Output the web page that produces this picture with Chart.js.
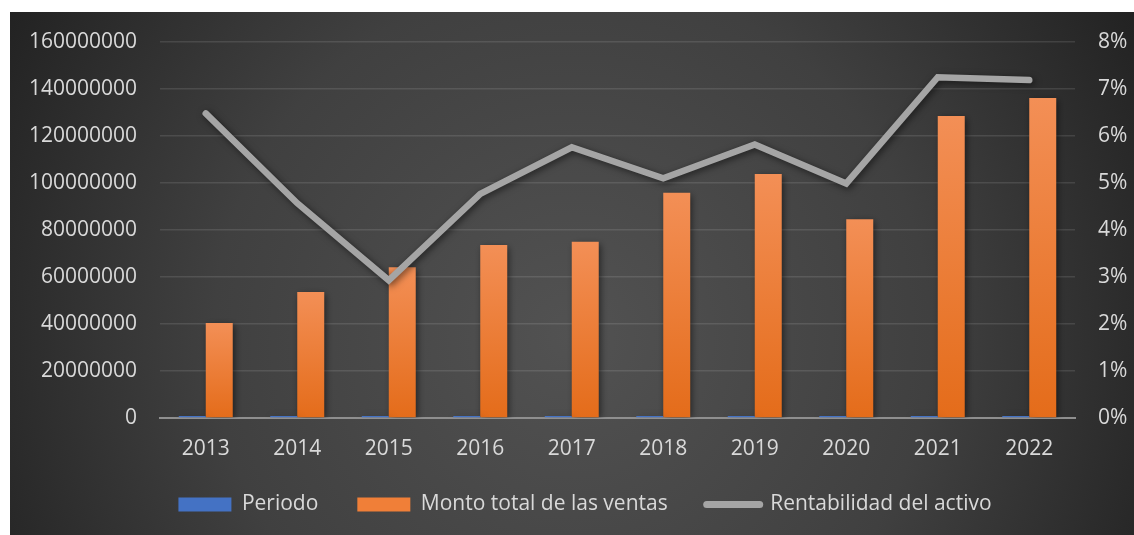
<!DOCTYPE html>
<html>
<head>
<meta charset="utf-8">
<script src="https://cdn.jsdelivr.net/npm/chart.js@4/dist/chart.umd.min.js"></script>
<style>
  html, body { margin: 0; padding: 0; background: #ffffff; }
  #wrap { position: absolute; left: 10px; top: 12px; width: 1124px; height: 523px; }
</style>
</head>
<body>
<div id="wrap"><canvas id="c" width="1124" height="523"></canvas></div>
<script>
const categories = ['2013','2014','2015','2016','2017','2018','2019','2020','2021','2022'];
const periodo = [2013, 2014, 2015, 2016, 2017, 2018, 2019, 2020, 2021, 2022];
const ventas = [40400000, 53600000, 64200000, 73600000, 75000000, 95800000, 103800000, 84600000, 128500000, 136200000];
const rentabilidad = [0.0648, 0.0457, 0.0293, 0.0477, 0.0576, 0.0510, 0.0582, 0.0499, 0.0725, 0.0719];
const leftTicks = [0, 20000000, 40000000, 60000000, 80000000, 100000000, 120000000, 140000000, 160000000];
const rightTicks = [0, 0.01, 0.02, 0.03, 0.04, 0.05, 0.06, 0.07, 0.08];

const TEXT = '#d9d9d9';
const FONT = { family: "'Open Sans', 'Noto Sans', sans-serif", size: 21 };

const bgPlugin = {
  id: 'bg',
  beforeDraw(chart) {
    const ctx = chart.ctx;
    const w = chart.width, h = chart.height;
    ctx.save();
    const g = ctx.createRadialGradient(w * 0.5, h * 0.62, 0, w * 0.5, h * 0.62, w * 0.58);
    g.addColorStop(0, '#525252');
    g.addColorStop(0.55, '#404040');
    g.addColorStop(1, '#222222');
    ctx.fillStyle = g;
    ctx.fillRect(0, 0, w, h);
    ctx.restore();
  }
};

const shadowPlugin = {
  id: 'shadow',
  beforeDatasetDraw(chart, args) {
    const ctx = chart.ctx;
    ctx.save();
    ctx.shadowColor = 'rgba(0,0,0,0.55)';
    ctx.shadowBlur = 7;
    ctx.shadowOffsetX = 2;
    ctx.shadowOffsetY = 2;
  },
  afterDatasetDraw(chart) {
    chart.ctx.restore();
  }
};

// legend box sizing / placement
const legendFitPlugin = {
  id: 'legendFit',
  beforeLayout(chart) {
    const lg = chart.legend;
    if (lg && !lg._patched) {
      const orig = lg.fit.bind(lg);
      lg.fit = function () { orig(); this.height = 72; };
      lg._patched = true;
    }
  },
  afterLayout(chart) {
    const lg = chart.legend;
    if (lg) {
      lg.left += 13; lg.right += 13;
      lg.top -= 8; lg.bottom -= 8;
    }
  }
};

function orangeGrad(context) {
  const chart = context.chart;
  if (!chart.chartArea || context.type !== 'data') return '#f07f38';
  const ys = chart.scales.y;
  const v = context.raw;
  const top = ys.getPixelForValue(v);
  const bottom = ys.getPixelForValue(0);
  if (!isFinite(top) || bottom - top < 1) return '#f07f38';
  const g = chart.ctx.createLinearGradient(0, top, 0, bottom);
  g.addColorStop(0, '#f38f56');
  g.addColorStop(1, '#e46c1a');
  return g;
}

new Chart(document.getElementById('c'), {
  data: {
    labels: categories,
    datasets: [
      {
        type: 'line',
        label: 'Rentabilidad del activo',
        data: rentabilidad,
        yAxisID: 'y1',
        borderColor: '#a5a5a5',
        backgroundColor: '#a5a5a5',
        borderWidth: 6.5,
        borderCapStyle: 'round',
        borderJoinStyle: 'miter',
        pointRadius: 0,
        pointHoverRadius: 0,
        tension: 0,
        order: 0
      },
      {
        type: 'bar',
        label: 'Periodo',
        data: periodo,
        yAxisID: 'y',
        backgroundColor: '#4472c4',
        minBarLength: 2,
        categoryPercentage: 0.59,
        barPercentage: 1.0,
        order: 1
      },
      {
        type: 'bar',
        label: 'Monto total de las ventas',
        data: ventas,
        yAxisID: 'y',
        backgroundColor: orangeGrad,
        categoryPercentage: 0.59,
        barPercentage: 1.0,
        order: 1
      }
    ]
  },
  options: {
    responsive: false,
    animation: false,
    devicePixelRatio: 1,
    layout: { padding: { top: 30, left: 0, right: 0, bottom: 0 } },
    plugins: {
      tooltip: { enabled: false },
      legend: {
        position: 'bottom',
        labels: {
          color: TEXT,
          font: FONT,
          usePointStyle: true,
          pointStyleWidth: 53,
          boxHeight: 14,
          padding: 39,
          sort: (a, b) => {
            const order = ['Periodo', 'Monto total de las ventas', 'Rentabilidad del activo'];
            return order.indexOf(a.text) - order.indexOf(b.text);
          },
          generateLabels(chart) {
            return chart.data.datasets.map((ds, i) => {
              const isLine = ds.type === 'line';
              return {
                text: ds.label,
                datasetIndex: i,
                fillStyle: isLine ? '#a5a5a5' : (i === 2 ? '#f07f38' : '#4472c4'),
                strokeStyle: isLine ? '#a5a5a5' : 'rgba(0,0,0,0)',
                lineWidth: isLine ? 7 : 0,
                lineCap: 'round',
                pointStyle: isLine ? 'line' : 'rect',
                fontColor: TEXT,
                hidden: false
              };
            });
          }
        }
      }
    },
    scales: {
      x: {
        grid: { display: false, drawTicks: false },
        border: { display: true, color: '#8f8f8f', width: 2 },
        ticks: { color: TEXT, font: FONT, padding: 18, maxRotation: 0 },
        afterFit(scale) { scale.height = 45; }
      },
      y: {
        position: 'left',
        min: 0,
        max: 160000000,
        afterBuildTicks(scale) { scale.ticks = leftTicks.map(v => ({ value: v })); },
        ticks: { color: TEXT, font: FONT, padding: 23, callback: v => String(v) },
        grid: { color: 'rgba(255,255,255,0.11)', lineWidth: 1.5, drawTicks: false },
        border: { display: false },
        afterFit(scale) { scale.width = 150; scale.paddingTop = 0; scale.paddingBottom = 0; }
      },
      y1: {
        position: 'right',
        min: 0,
        max: 0.08,
        afterBuildTicks(scale) { scale.ticks = rightTicks.map(v => ({ value: v })); },
        ticks: { color: TEXT, font: FONT, padding: 23, callback: v => Math.round(v * 100) + '%' },
        grid: { drawOnChartArea: false, drawTicks: false },
        border: { display: false },
        afterFit(scale) { scale.width = 59; scale.paddingTop = 0; scale.paddingBottom = 0; }
      }
    }
  },
  plugins: [bgPlugin, shadowPlugin, legendFitPlugin]
});
</script>
</body>
</html>
